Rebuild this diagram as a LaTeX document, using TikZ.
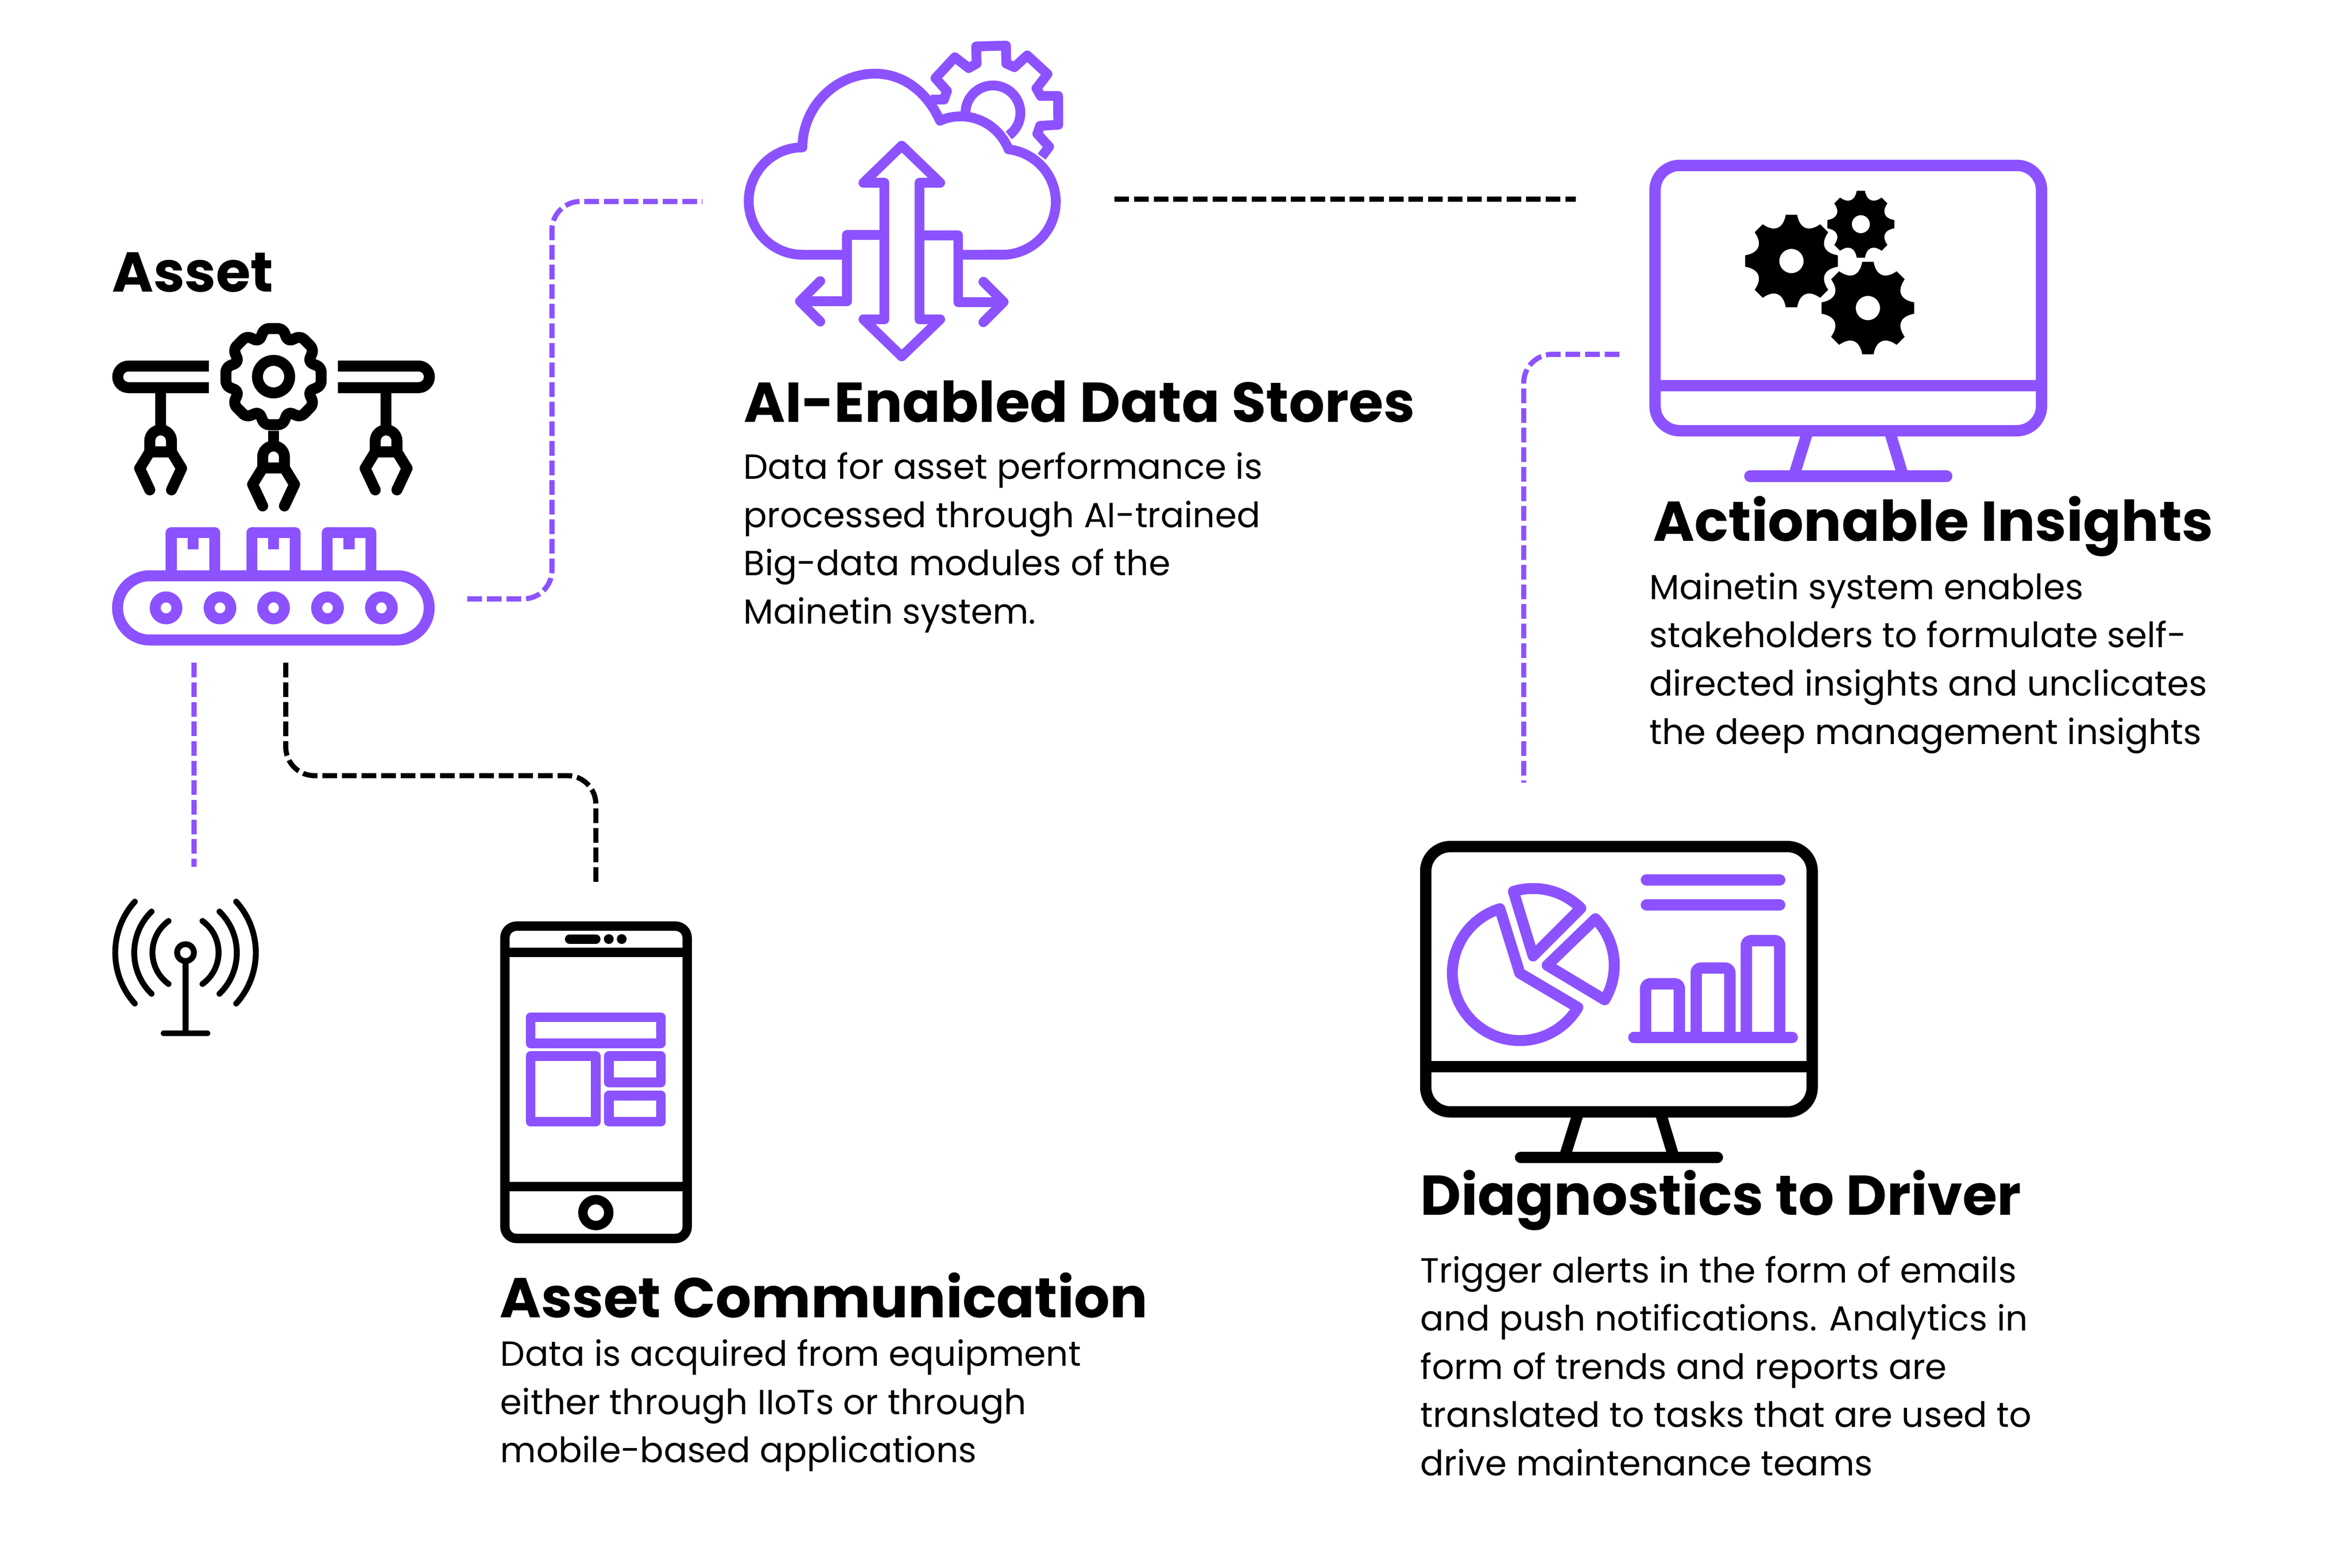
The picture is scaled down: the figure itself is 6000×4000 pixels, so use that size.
\documentclass[tikz,border=0pt]{standalone}
\usepackage{fontspec}
\setmainfont{Poppins}
\definecolor{brandpurple}{HTML}{8C52FF}
\newcommand\titlefont{\fontsize{40.75pt}{48pt}\bfseries\selectfont}
\newcommand\bodyfont{\fontsize{25.3pt}{35pt}\selectfont}
\tikzset{
  iconline/.style={line width=2.8mm,line join=round},
  thinline/.style={line width=2.5mm,line join=round},
  purpleline/.style={dash pattern=on 3.75mm off 1.25mm,line width=1.3mm,draw=brandpurple},
  blackline/.style={dash pattern=on 3.75mm off 1.25mm,line width=1.3mm,draw=black},
  headline/.style={anchor=base west,inner sep=0pt,font=\titlefont},
  bodytext/.style={anchor=north west,inner sep=0pt,align=left,font=\bodyfont},
}
\newcommand\solidgear[4]{\begin{scope}[shift={(#1,#2)}]
  \fill[black,even odd rule] (-97:#3) \foreach \a in {-90,-45,...,225} { -- ({\a+7}:#3) .. controls ({\a+14}:{#3*0.715}) and ({\a+31}:{#3*0.715}) .. ({\a+38}:#3)} -- cycle (0,0) circle[radius=#4];
\end{scope}}
\newcommand\monitor[3]{\begin{scope}[shift={(#2,#3)}]
  \draw[#1,line width=2.9mm,line join=round,rounded corners=6.3mm] (4222,422) rectangle (5208,1099);
  \draw[#1,line width=2.9mm] (4222,984) -- (5208,984);
  \draw[#1,line width=2.9mm] (4612,1099) -- (4576,1215);
  \draw[#1,line width=2.9mm] (4820,1099) -- (4855,1215);
  \draw[#1,line width=2.9mm,line cap=round] (4464,1215) -- (4966,1215);
\end{scope}}
\newcommand\claw[2]{\begin{scope}[shift={(#1,#2)}]
  \draw[black,iconline] (383,1153) -- (383,1125) arc[start angle=180,end angle=360,radius=28] -- (439,1153) -- cycle;
  \draw[black,iconline,line cap=round] (383,1153) -- (357,1195) -- (383,1250);
  \draw[black,iconline,line cap=round] (439,1153) -- (465,1195) -- (439,1250);
\end{scope}}
\begin{document}
\begin{tikzpicture}[x=0.1mm,y=-0.1mm]
\useasboundingbox (0,0) rectangle (6000,4000);
\fill[white] (0,0) rectangle (6000,4000);

% ---------- Asset icon
\begin{scope}[shift={(2.86,0)},x=0.099mm]
\draw[black,iconline] (535,934) -- (328,934) arc[start angle=270,end angle=90,radius=27.5] -- (535,989);
\draw[black,iconline] (868,934) -- (1076,934) arc[start angle=-90,end angle=90,radius=27.5] -- (868,989);
\begin{scope}[shift={(702,961)}]
  \draw[black,iconline,rounded corners=1.2mm] (-90:122.7) \foreach \a in {-90,-45,...,225} { -- ({\a+11}:125) -- ({\a+22.5}:97) -- ({\a+34}:125)} -- cycle;
  \draw[black,iconline] (0,0) circle[radius=41.5];
\end{scope}
\draw[black,iconline] (411,1003) -- (411,1090);
\draw[black,iconline] (702,1099) -- (702,1130);
\draw[black,iconline] (992,1003) -- (992,1090);
\claw{0}{0}\claw{291}{41}\claw{581}{0}
\draw[brandpurple,iconline,rounded corners=8.2mm] (300,1469) rectangle (1103,1633);
\foreach \c in {425,564,702,841,980}{\draw[brandpurple,iconline] (\c,1551) circle[radius=28];}
\foreach \c in {494.5,702,896.5}{
  \draw[brandpurple,iconline] (\c-56,1469) -- (\c-56,1359) -- (\c+56,1359) -- (\c+56,1469);
  \fill[brandpurple] (\c-14,1359) rectangle (\c+14,1402);
}
\end{scope}
\node[headline] (assetlabel) at (285,745) {Asset};

% ---------- Cloud icon
\draw[brandpurple,thinline] (2148,650) -- (2047,650) arc[start angle=90,end angle=270,radius=137]
  .. controls (2047,274) and (2130,188) .. (2232,188)
  .. controls (2305,188) and (2365,235) .. (2398,308)
  .. controls (2415,300) and (2433,297) .. (2451,297)
  .. controls (2505,297) and (2552,330) .. (2573,381)
  arc[start angle=277,end angle=450,x radius=137,y radius=135] -- (2444,650);
\draw[brandpurple,thinline] (2463,297) -- (2463,288) arc[start angle=180,end angle=415,radius=70];
\begin{scope}[shift={(1860,60)},x=0.0574mm,y=-0.0574mm]
  \draw[brandpurple,thinline] (897,338) -- (955,338) -- (968,300) -- (917,243) -- (1003,150) -- (1065,198) -- (1100,178) -- (1098,102) -- (1230,98) -- (1232,178) -- (1268,194) -- (1325,142) -- (1415,225) -- (1366,288) -- (1385,322) -- (1462,322) -- (1463,450) -- (1382,455) -- (1370,490) -- (1422,548) -- (1389,592);
  \draw[brandpurple,thinline] (690,708) -- (597,708) -- (767,543) -- (938,708) -- (846,708) -- (846,1315) -- (938,1315) -- (767,1480) -- (597,1315) -- (690,1315) -- cycle;
  \draw[brandpurple,thinline] (690,940) -- (524,940) -- (524,1235) -- (315,1235);
  \draw[brandpurple,thinline,line cap=round] (405,1145) -- (315,1235) -- (405,1325);
  \draw[brandpurple,thinline] (846,942) -- (1018,942) -- (1018,1238) -- (1220,1238);
  \draw[brandpurple,thinline,line cap=round] (1130,1148) -- (1220,1238) -- (1130,1328);
\end{scope}
\node[headline] (storeshead) at (1897,1077) {AI-Enabled Data Stores};
\node[bodytext] (storesbody) at (1896,1154) {Data for asset performance is\\processed through AI-trained\\Big-data modules of the\\Mainetin system.};

% ---------- Insights monitor
\monitor{brandpurple}{0}{0}
\solidgear{4570}{666}{119}{31}
\solidgear{4747}{572}{86}{23}
\solidgear{4765}{786}{119}{31}
\node[headline] (insighthead) at (4217,1381) {Actionable Insights};
\node[bodytext] (insightbody) at (4207,1461) {Mainetin system enables\\stakeholders to formulate self-\\directed insights and unclicates\\the deep management insights};

% ---------- Diagnostics monitor
\monitor{black}{-585}{1738}
\draw[brandpurple,line width=2.9mm,line cap=round] (4200,2245) -- (4540,2245);
\draw[brandpurple,line width=2.9mm,line cap=round] (4200,2309) -- (4540,2309);
\draw[brandpurple,line width=2.9mm,line cap=round] (4168,2647) -- (4572,2647);
\draw[brandpurple,line width=2.9mm,line join=round,rounded corners=1.2mm] (4198,2647) -- (4198,2510) -- (4284,2510) -- (4284,2647);
\draw[brandpurple,line width=2.9mm,line join=round,rounded corners=1.2mm] (4327,2647) -- (4327,2470) -- (4413,2470) -- (4413,2647);
\draw[brandpurple,line width=2.9mm,line join=round,rounded corners=1.2mm] (4455,2647) -- (4455,2400) -- (4540,2400) -- (4540,2647);
\draw[brandpurple,iconline] (3877,2483) -- +(252.8:172) arc[start angle=252.8,end angle=30.6,radius=172] -- cycle;
\draw[brandpurple,iconline] (3911,2439) -- +(253:172) arc[start angle=253,end angle=315,radius=172] -- cycle;
\draw[brandpurple,iconline] (3947,2463) -- +(316:171) arc[start angle=316,end angle=391,radius=171] -- cycle;
\node[headline] (diaghead) at (3623,3100) {Diagnostics to Driver};
\node[bodytext] (diagbody) at (3623,3204) {Trigger alerts in the form of emails\\and push notifications. Analytics in\\form of trends and reports are\\translated to tasks that are used to\\drive maintenance teams};

% ---------- Phone
\draw[black,line width=2.4mm,rounded corners=3mm] (1288,2363) rectangle (1753,3160);
\draw[black,line width=2.4mm] (1288,2430) -- (1753,2430);
\draw[black,line width=2.4mm] (1288,3027) -- (1753,3027);
\draw[black,line width=2.4mm,line cap=round] (1453,2396) -- (1520,2396);
\fill[black] (1553,2396) circle[radius=12.5];
\fill[black] (1586,2396) circle[radius=12.5];
\draw[black,line width=2.4mm] (1520,3094) circle[radius=33];
\draw[brandpurple,line width=2.5mm,line join=round] (1353.5,2595.5) rectangle (1686,2662);
\draw[brandpurple,line width=2.5mm,line join=round] (1353.5,2695) rectangle (1520,2862);
\draw[brandpurple,line width=2.5mm,line join=round] (1553,2695) rectangle (1686,2762);
\draw[brandpurple,line width=2.5mm,line join=round] (1553,2795) rectangle (1686,2862);
\node[headline] (commhead) at (1274,3362) {Asset Communication};
\node[bodytext] (commbody) at (1276,3417) {Data is acquired from equipment\\either through IIoTs or through\\mobile-based applications};

% ---------- Tower
\begin{scope}[shift={(240,2250)},x=0.03333mm,y=-0.03333mm]
  \draw[black,line width=1.5mm] (700,542) circle[radius=64.5];
  \draw[black,line width=1.5mm] (700,607) -- (700,1160);
  \draw[black,line width=1.5mm,line cap=round] (533,1160) -- (867,1160);
  \foreach \m in {0,1}{
    \begin{scope}[shift={(700,0)},xscale={1-2*\m},shift={(-700,0)}]
      \draw[black,line width=1.5mm,line cap=round] (570,300) .. controls (406,419) and (406,663) .. (570,782);
      \draw[black,line width=1.5mm,line cap=round] (440,228) .. controls (263,400) and (263,685) .. (440,857);
      \draw[black,line width=1.5mm,line cap=round] (312,152) .. controls (112,373) and (112,711) .. (312,932);
    \end{scope}
  }
\end{scope}

% ---------- Connectors
\coordinate (c1a) at (1192,1528); \coordinate (c1b) at (1792,514);
\coordinate (c2a) at (2843,508); \coordinate (c2b) at (4020,508);
\coordinate (c3a) at (4131,904); \coordinate (c3b) at (3887,1997);
\coordinate (c4a) at (495,1691); \coordinate (c4b) at (495,2212);
\coordinate (c5a) at (729,1691); \coordinate (c5b) at (1520,2251);
\draw[purpleline,rounded corners=7.3mm] (c1a) -| (1408,514) -- (c1b);
\draw[blackline] (c2a) -- (c2b);
\draw[purpleline,rounded corners=7.3mm] (c3a) -| (c3b);
\draw[purpleline] (c4a) -- (c4b);
\draw[blackline,rounded corners=7.3mm] (c5a) -- (729,1979) -- (1520,1979) -- (c5b);
\end{tikzpicture}
\end{document}
